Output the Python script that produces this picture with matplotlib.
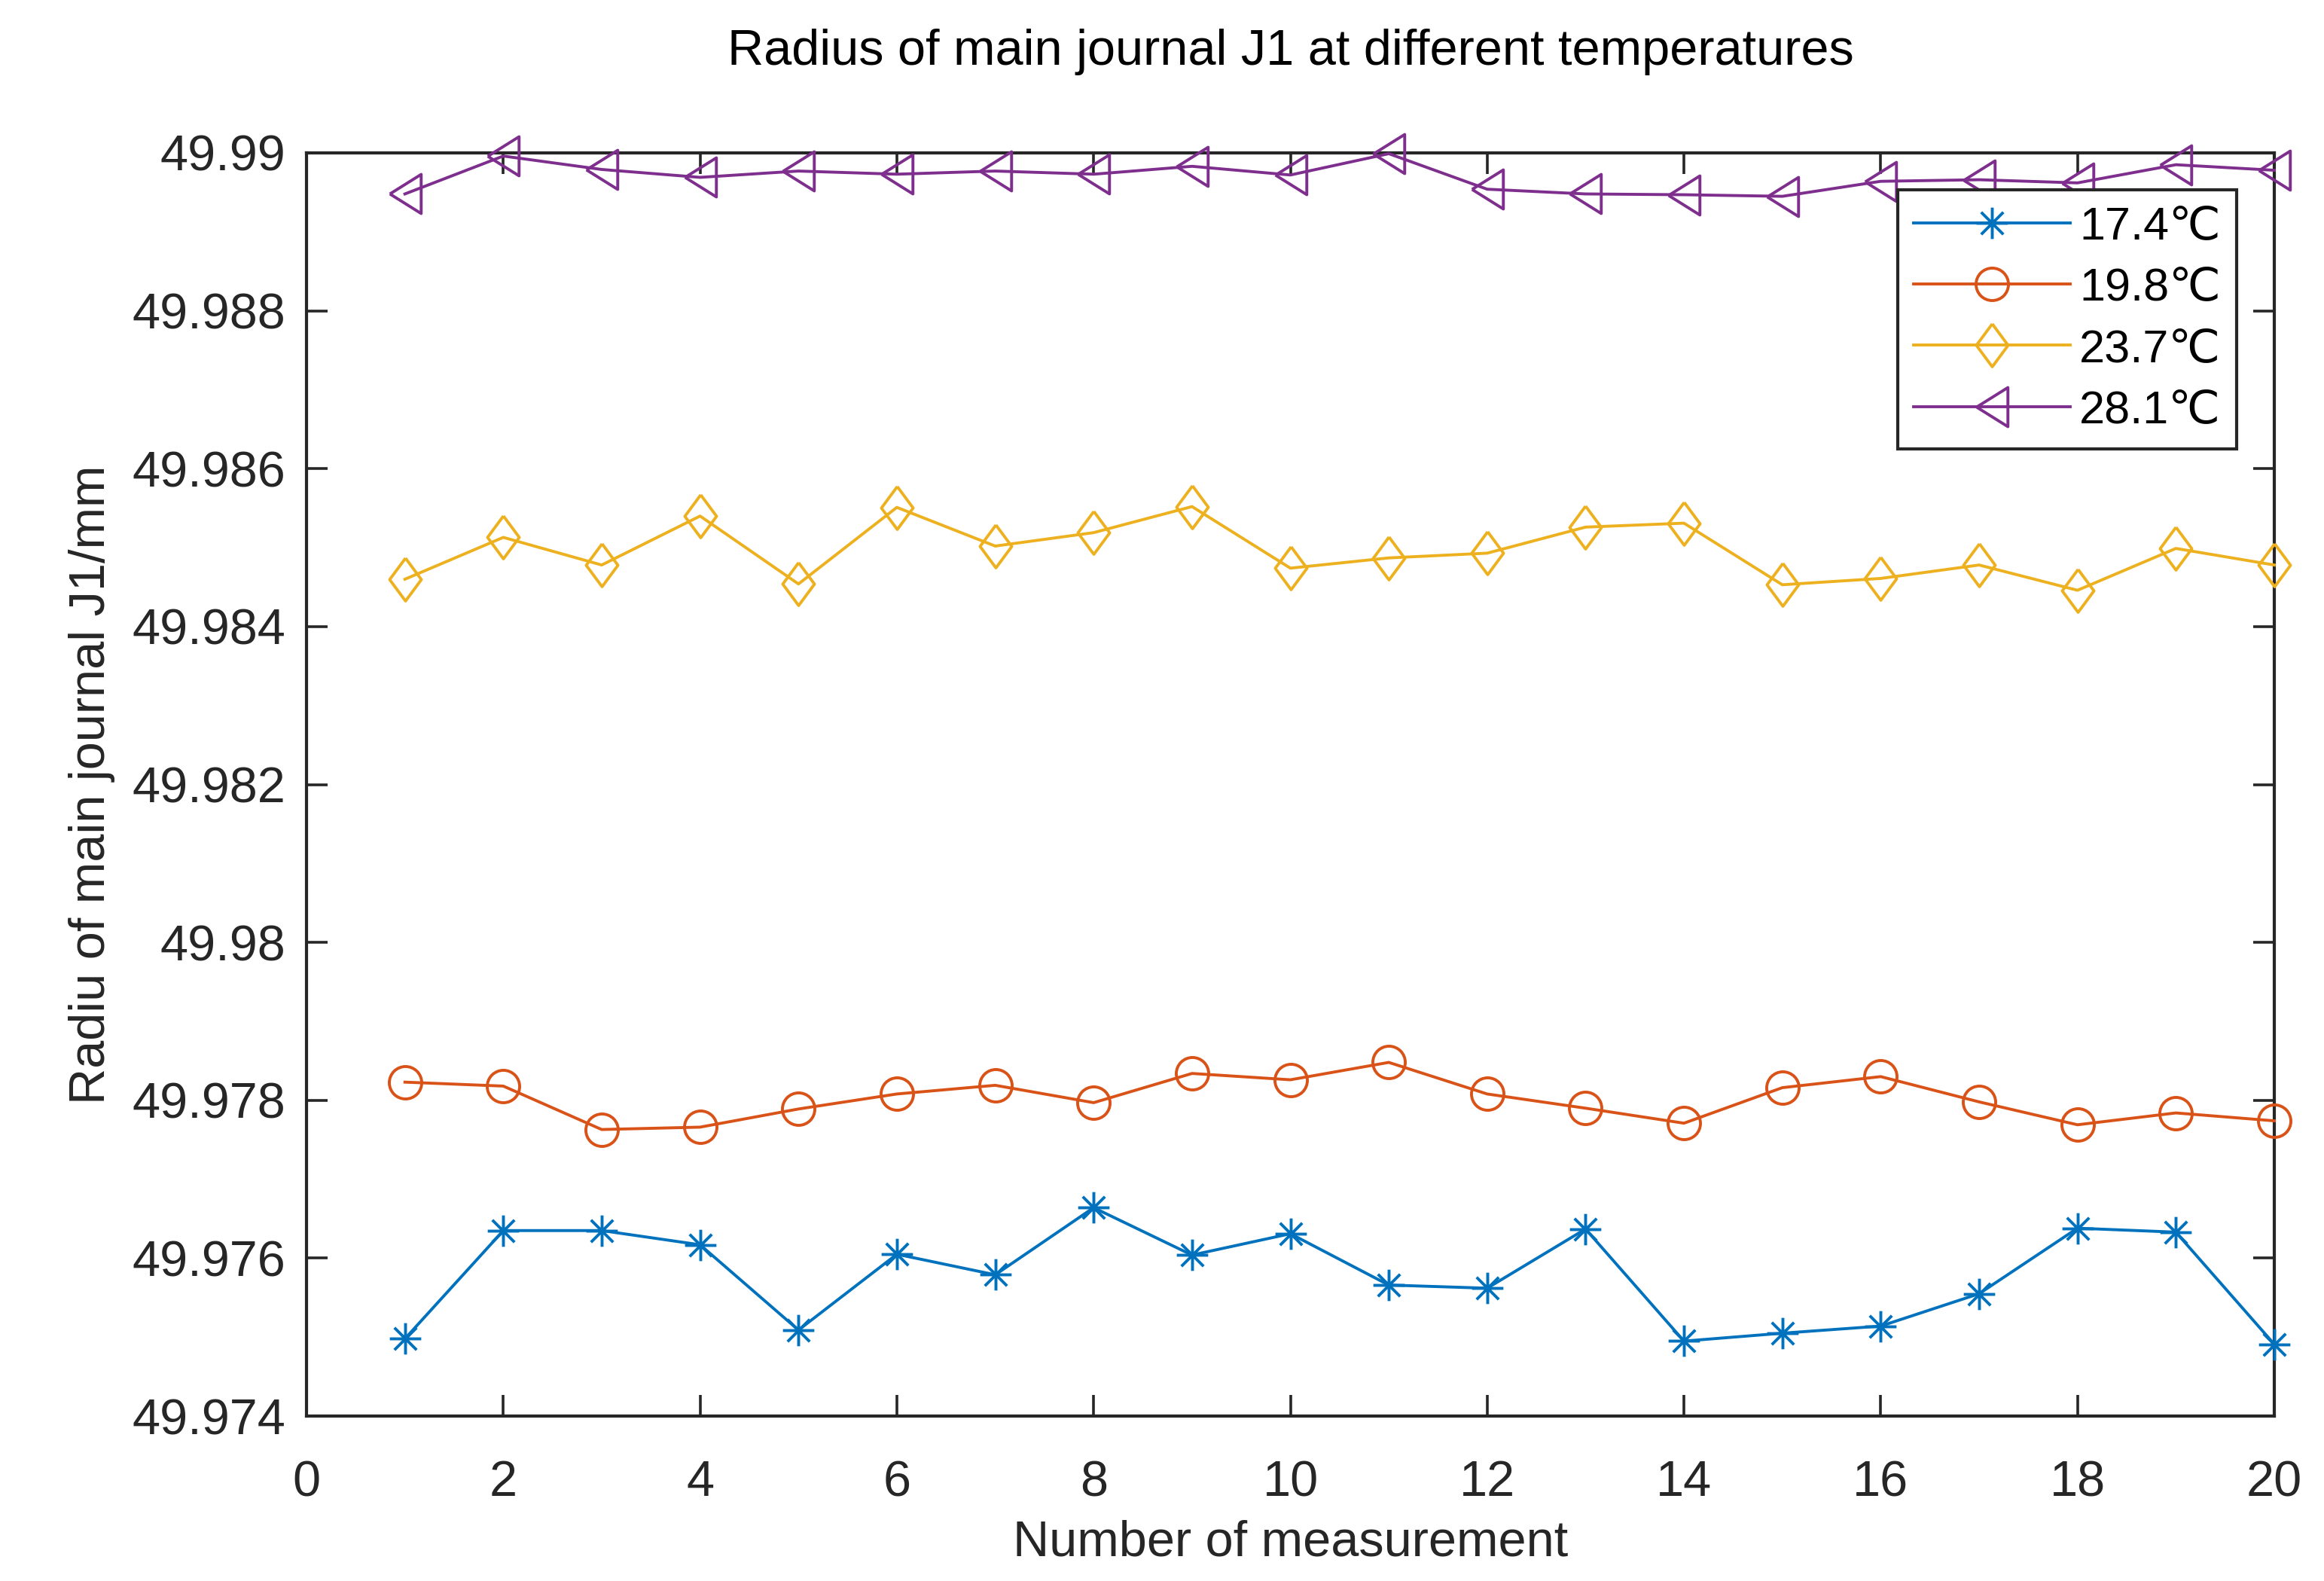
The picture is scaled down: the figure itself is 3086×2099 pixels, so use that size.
import numpy as np
import matplotlib
matplotlib.use("Agg")
import matplotlib.pyplot as plt
from matplotlib.path import Path
from matplotlib.ticker import FuncFormatter

plt.rcParams['font.family'] = ['Liberation Sans', 'DejaVu Sans']

# === 數據 ===
n_meas = np.arange(1, 21)
labels = ["17.4℃", "19.8℃", "23.7℃", "28.1℃"]
r_174 = [49.97498, 49.97635, 49.97635, 49.97617, 49.97509, 49.97605, 49.97579, 49.97664, 49.97604, 49.97631,
         49.97566, 49.97562, 49.97637, 49.97495, 49.97505, 49.97514, 49.97555, 49.97638, 49.97633, 49.97491]
r_198 = [49.97823, 49.97818, 49.97763, 49.97766, 49.97789, 49.97808, 49.97819, 49.97797, 49.97834, 49.97826,
         49.97848, 49.97808, 49.97790, 49.97771, 49.97816, 49.97830, 49.97798, 49.97769, 49.97784, 49.97774]
r_237 = [49.98460, 49.98513, 49.98478, 49.98540, 49.98454, 49.98551, 49.98502, 49.98519, 49.98552, 49.98474,
         49.98487, 49.98493, 49.98526, 49.98531, 49.98453, 49.98461, 49.98478, 49.98446, 49.98499, 49.98478]
r_281 = [49.98948, 49.98996, 49.98979, 49.98969, 49.98977, 49.98973, 49.98977, 49.98973, 49.98983, 49.98972,
         49.98999, 49.98954, 49.98948, 49.98947, 49.98945, 49.98964, 49.98966, 49.98962, 49.98985, 49.98978]
series = [r_174, r_198, r_237, r_281]
colors = ["#0072BD", "#D95319", "#EDB120", "#7E2F8E"]

# MATLAB 風格的標記
d = 0.707
star = Path([(0, 1), (0, -1), (1, 0), (-1, 0), (d, d), (-d, -d), (-d, d), (d, -d)],
            [Path.MOVETO, Path.LINETO] * 4)
diamond = Path([(0, 1), (0.74, 0), (0, -1), (-0.74, 0), (0, 1)])
tri_left = Path([(-0.8, 0), (0.8, 1), (0.8, -1), (-0.8, 0)])
markers = [(star, 15), ("o", 15.5), (diamond, 20.5), (tri_left, 18.7)]

fig = plt.figure(figsize=(15.43, 10.495), dpi=200)
ax = fig.add_axes([0.1319, 0.1043, 0.8467, 0.799])

for vals, lab, c, (m, ms) in zip(series, labels, colors, markers):
    ax.plot(n_meas, vals, color=c, lw=1.4, marker=m, ms=ms, mfc="none",
            mec=c, mew=1.4, label=lab, clip_on=False, zorder=3)

ax.set_xlim(0, 20)
ax.set_ylim(49.974, 49.990)
ax.set_xticks(np.arange(0, 21, 2))
ax.set_yticks(np.arange(49.974, 49.9901, 0.002))
ax.yaxis.set_major_formatter(FuncFormatter(lambda v, p: f"{v:.3f}".rstrip('0').rstrip('.')))

ax.tick_params(direction="in", top=True, right=True, length=10, width=1.3,
               color="#262626", labelcolor="#262626", labelsize=24)
ax.tick_params(axis="x", pad=21)
ax.tick_params(axis="y", pad=10)
for s in ax.spines.values():
    s.set_linewidth(1.5)
    s.set_color("#262626")

ax.set_xlabel("Number of measurement", fontsize=24, color="#262626", labelpad=6)
ax.set_ylabel("Radiu of main journal J1/mm", fontsize=24, color="#262626", labelpad=8)
ax.set_title("Radius of main journal J1 at different temperatures", fontsize=24, pad=42)

leg = ax.legend(loc="upper right", bbox_to_anchor=(0.981, 0.971), fontsize=22,
                frameon=True, fancybox=False, edgecolor="#262626", framealpha=1,
                handlelength=3.4, handletextpad=0.2, borderpad=0.35, labelspacing=0.4,
                borderaxespad=0)
leg.get_frame().set_linewidth(1.5)

fig.savefig("out.png", dpi=200)
plt.close()
